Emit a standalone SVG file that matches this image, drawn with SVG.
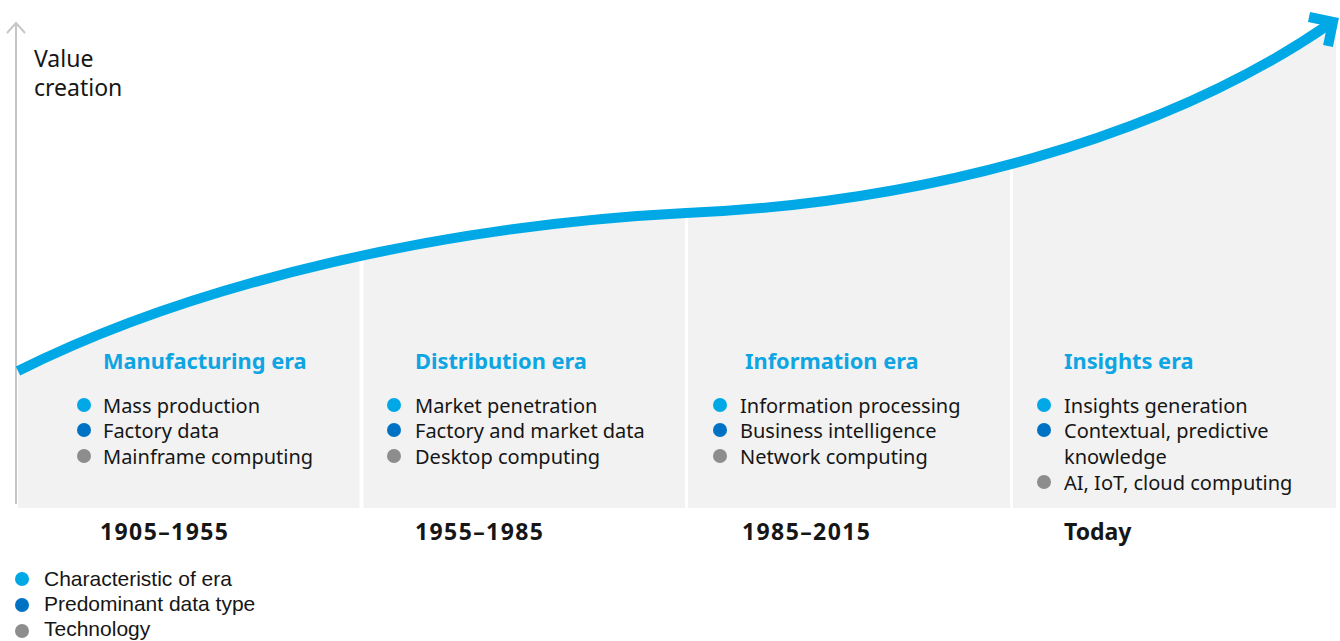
<svg xmlns="http://www.w3.org/2000/svg" width="1340" height="641" viewBox="0 0 1340 641">
<style>
text{font-family:"Noto Sans","Liberation Sans",sans-serif;fill:#161616;font-size:20px}
.t{font-weight:700;fill:#0ea5e2;font-size:21.8px}
.y{font-weight:700;font-size:23px}
.yn{letter-spacing:1.4px}
.v{font-size:23px}
.lg{font-family:"Liberation Sans","Noto Sans",sans-serif;font-size:21px}
.c1{fill:#00a9e6}.c2{fill:#0072c3}.c3{fill:#8d8d8d}
</style>
<rect width="1340" height="641" fill="#ffffff"/>
<g id="background">
<path d="M18,371 C200,280 450,225 686,213 C920,203 1160,140 1328,25 L1336,20 L1336,508 L18,508 Z" fill="#f2f2f2"/>
<rect x="359.5" y="150" width="4" height="362" fill="#ffffff"/>
<rect x="685" y="150" width="3" height="362" fill="#ffffff"/>
<rect x="1010" y="100" width="3" height="412" fill="#ffffff"/>
</g>
<g id="axis">
<line x1="16" y1="23" x2="16" y2="504" stroke="#c6c6c6" stroke-width="2"/>
<polyline points="7,33 16,23 25,33" fill="none" stroke="#c6c6c6" stroke-width="2"/>
<text class="v" x="34" y="67">Value</text>
<text class="v" x="34" y="96">creation</text>
</g>
<g id="connectors">
<path d="M18,371 C200,280 450,225 686,213 C920,203 1160,140 1328,25" fill="none" stroke="#00a9e6" stroke-width="10"/>
<polyline points="1309,17 1333,22 1328,46" fill="none" stroke="#00a9e6" stroke-width="10" stroke-linejoin="miter"/>
</g>
<g id="manufacturing">
<text class="t" x="103" y="369">Manufacturing era</text>
<circle class="c1" cx="84" cy="405" r="7"/><text x="103" y="413">Mass production</text>
<circle class="c2" cx="84" cy="430" r="7"/><text x="103" y="438">Factory data</text>
<circle class="c3" cx="84" cy="456" r="7"/><text x="103" y="464">Mainframe computing</text>
<text class="y yn" x="100" y="540">1905–1955</text>
</g>
<g id="distribution">
<text class="t" x="415" y="369">Distribution era</text>
<circle class="c1" cx="394" cy="405" r="7"/><text x="415" y="413">Market penetration</text>
<circle class="c2" cx="394" cy="430" r="7"/><text x="415" y="438">Factory and market data</text>
<circle class="c3" cx="394" cy="456" r="7"/><text x="415" y="464">Desktop computing</text>
<text class="y yn" x="415" y="540">1955–1985</text>
</g>
<g id="information">
<text class="t" x="745" y="369">Information era</text>
<circle class="c1" cx="720" cy="405" r="7"/><text x="740" y="413">Information processing</text>
<circle class="c2" cx="720" cy="430" r="7"/><text x="740" y="438">Business intelligence</text>
<circle class="c3" cx="720" cy="456" r="7"/><text x="740" y="464">Network computing</text>
<text class="y yn" x="742" y="540">1985–2015</text>
</g>
<g id="insights">
<text class="t" x="1064" y="369">Insights era</text>
<circle class="c1" cx="1044" cy="405" r="7"/><text x="1064" y="413">Insights generation</text>
<circle class="c2" cx="1044" cy="430" r="7"/><text x="1064" y="438">Contextual, predictive</text>
<text x="1064" y="464">knowledge</text>
<circle class="c3" cx="1044" cy="482" r="7"/><text x="1064" y="490">AI, IoT, cloud computing</text>
<text class="y" x="1064" y="540">Today</text>
</g>
<g id="legend">
<circle class="c1" cx="22" cy="579" r="7"/><text class="lg" x="44" y="586">Characteristic of era</text>
<circle class="c2" cx="22" cy="605" r="7"/><text class="lg" x="44" y="611">Predominant data type</text>
<circle class="c3" cx="22" cy="631" r="7"/><text class="lg" x="44" y="636">Technology</text>
</g>
</svg>
